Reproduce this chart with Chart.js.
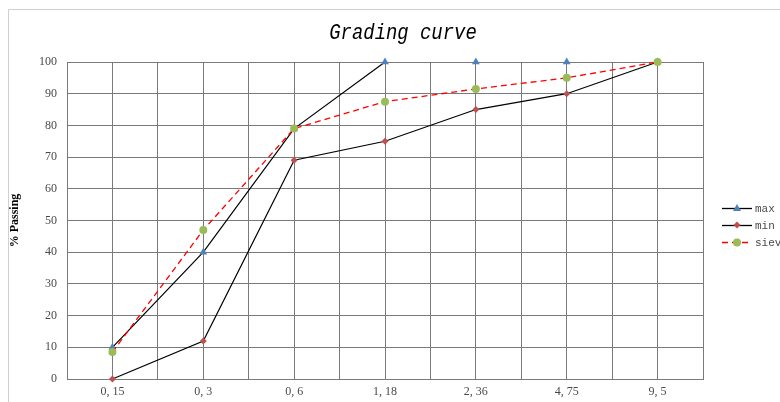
<!DOCTYPE html>
<html><head><meta charset="utf-8">
<script src="https://cdn.jsdelivr.net/npm/chart.js@4/dist/chart.umd.min.js"></script>
<style>html,body{margin:0;padding:0;background:#fff}#wrap{width:780px;height:402px}</style>
</head><body><div id="wrap"><canvas id="c" width="780" height="402"></canvas></div>
<script>
const categories = ['0, 15', '0, 3', '0, 6', '1, 18', '2, 36', '4, 75', '9, 5'];
const maxValues = [10, 40, 79, 100, 100, 100, 100];
const minValues = [0, 12, 69, 75, 85, 90, 100];
const sieveValues = [8.5, 47, 79, 87.5, 91.5, 95, 100];
const seriesNames = ['max', 'min', 'sieve'];
const titleText = 'Grading curve';
const yTitle = '% Passing';

const toPts = arr => arr.map((v, i) => ({x: i, y: v}));
const GRID = '#7a7a7a';
const TXT = '#4a4a4a';

const frameTitleLegend = {
  id: 'ftl',
  beforeDraw(chart) {
    const c = chart.ctx;
    c.save();
    c.fillStyle = '#fff';
    c.fillRect(0, 0, 780, 402);
    c.strokeStyle = '#d0d0d0';
    c.lineWidth = 1;
    c.beginPath();
    c.moveTo(8.5, 402); c.lineTo(8.5, 9.5); c.lineTo(780, 9.5);
    c.stroke();
    c.restore();
  },
  afterDraw(chart) {
    const c = chart.ctx;
    c.save();
    c.fillStyle = '#000';
    c.font = 'italic 21px "Liberation Mono"';
    c.textAlign = 'center';
    c.textBaseline = 'middle';
    c.translate(403, 33);
    c.scale(0.9, 1.05);
    c.fillText(titleText, 0, 0);
    c.restore();
    c.save();
    // legend
    const ys = [208, 225, 242];
    chart.data.datasets.forEach((ds, i) => {
      const y = ys[i];
      c.save();
      c.strokeStyle = ds.borderColor;
      c.lineWidth = 1.3;
      c.setLineDash(ds.borderDash || []);
      c.beginPath(); c.moveTo(722, y + 0.5); c.lineTo(752, y + 0.5); c.stroke();
      c.restore();
      c.fillStyle = ds.pointBackgroundColor;
      c.beginPath();
      if (ds.pointStyle === 'triangle') {
        c.moveTo(737, y - 4); c.lineTo(741, y + 3); c.lineTo(733, y + 3); c.closePath();
      } else if (ds.pointStyle === 'rectRot') {
        c.moveTo(737, y - 3.5); c.lineTo(740.5, y); c.lineTo(737, y + 3.5); c.lineTo(733.5, y); c.closePath();
      } else {
        c.arc(737, y + 0.5, 4, 0, Math.PI * 2);
      }
      c.fill();
      c.fillStyle = TXT;
      c.font = '11px "Liberation Mono"';
      c.textAlign = 'left';
      c.textBaseline = 'middle';
      c.fillText(ds.label, 755, y + 1);
    });
    c.restore();
  }
};

new Chart(document.getElementById('c'), {
  type: 'line',
  data: {
    datasets: [
      {label: seriesNames[0], data: toPts(maxValues), borderColor: '#000', borderWidth: 1.2,
       pointStyle: 'triangle', pointRadius: 4.5, pointBackgroundColor: '#4f81bd', pointBorderColor: '#4f81bd', pointBorderWidth: 0,
       order: 2, segment: {borderColor: ctx => ctx.p0DataIndex >= 3 ? 'rgba(0,0,0,0)' : undefined}},
      {label: seriesNames[1], data: toPts(minValues), borderColor: '#000', borderWidth: 1.2,
       pointStyle: 'rectRot', pointRadius: 3.5, pointBackgroundColor: '#c0504d', pointBorderColor: '#c0504d', pointBorderWidth: 0, order: 3},
      {label: seriesNames[2], data: toPts(sieveValues), borderColor: '#ff0000', borderWidth: 1.3, borderDash: [6, 4],
       pointStyle: 'circle', pointRadius: 4, pointBackgroundColor: '#9bbb59', pointBorderColor: '#9bbb59', pointBorderWidth: 0, order: 1}
    ]
  },
  options: {
    responsive: false,
    animation: false,
    devicePixelRatio: 1,
    clip: false,
    layout: {padding: {left: 0, top: 62, right: 77, bottom: 0}},
    plugins: {legend: {display: false}, title: {display: false}, tooltip: {enabled: false}},
    elements: {line: {tension: 0}},
    scales: {
      x: {
        type: 'linear', min: -0.5, max: 6.5,
        afterFit: s => { s.height = 23; },
        grid: {color: GRID, lineWidth: 1, drawTicks: false},
        border: {display: true, color: GRID},
        ticks: {
          stepSize: 0.5, maxTicksLimit: 100, autoSkip: false, maxRotation: 0, padding: 6,
          color: TXT, font: {family: 'Liberation Serif', size: 12},
          callback: v => Number.isInteger(v) && v >= 0 && v < categories.length ? categories[v] : ''
        }
      },
      y: {
        min: 0, max: 100,
        afterFit: s => { s.width = 67; },
        grid: {color: GRID, lineWidth: 1, drawTicks: false},
        border: {display: true, color: GRID},
        ticks: {stepSize: 10, padding: 10, color: TXT, font: {family: 'Liberation Serif', size: 12}},
        title: {display: true, text: yTitle, color: '#000', font: {family: 'Liberation Serif', size: 12, weight: 'bold'}, padding: {top: 8, bottom: 0}}
      }
    }
  },
  plugins: [frameTitleLegend]
});
</script></body></html>
